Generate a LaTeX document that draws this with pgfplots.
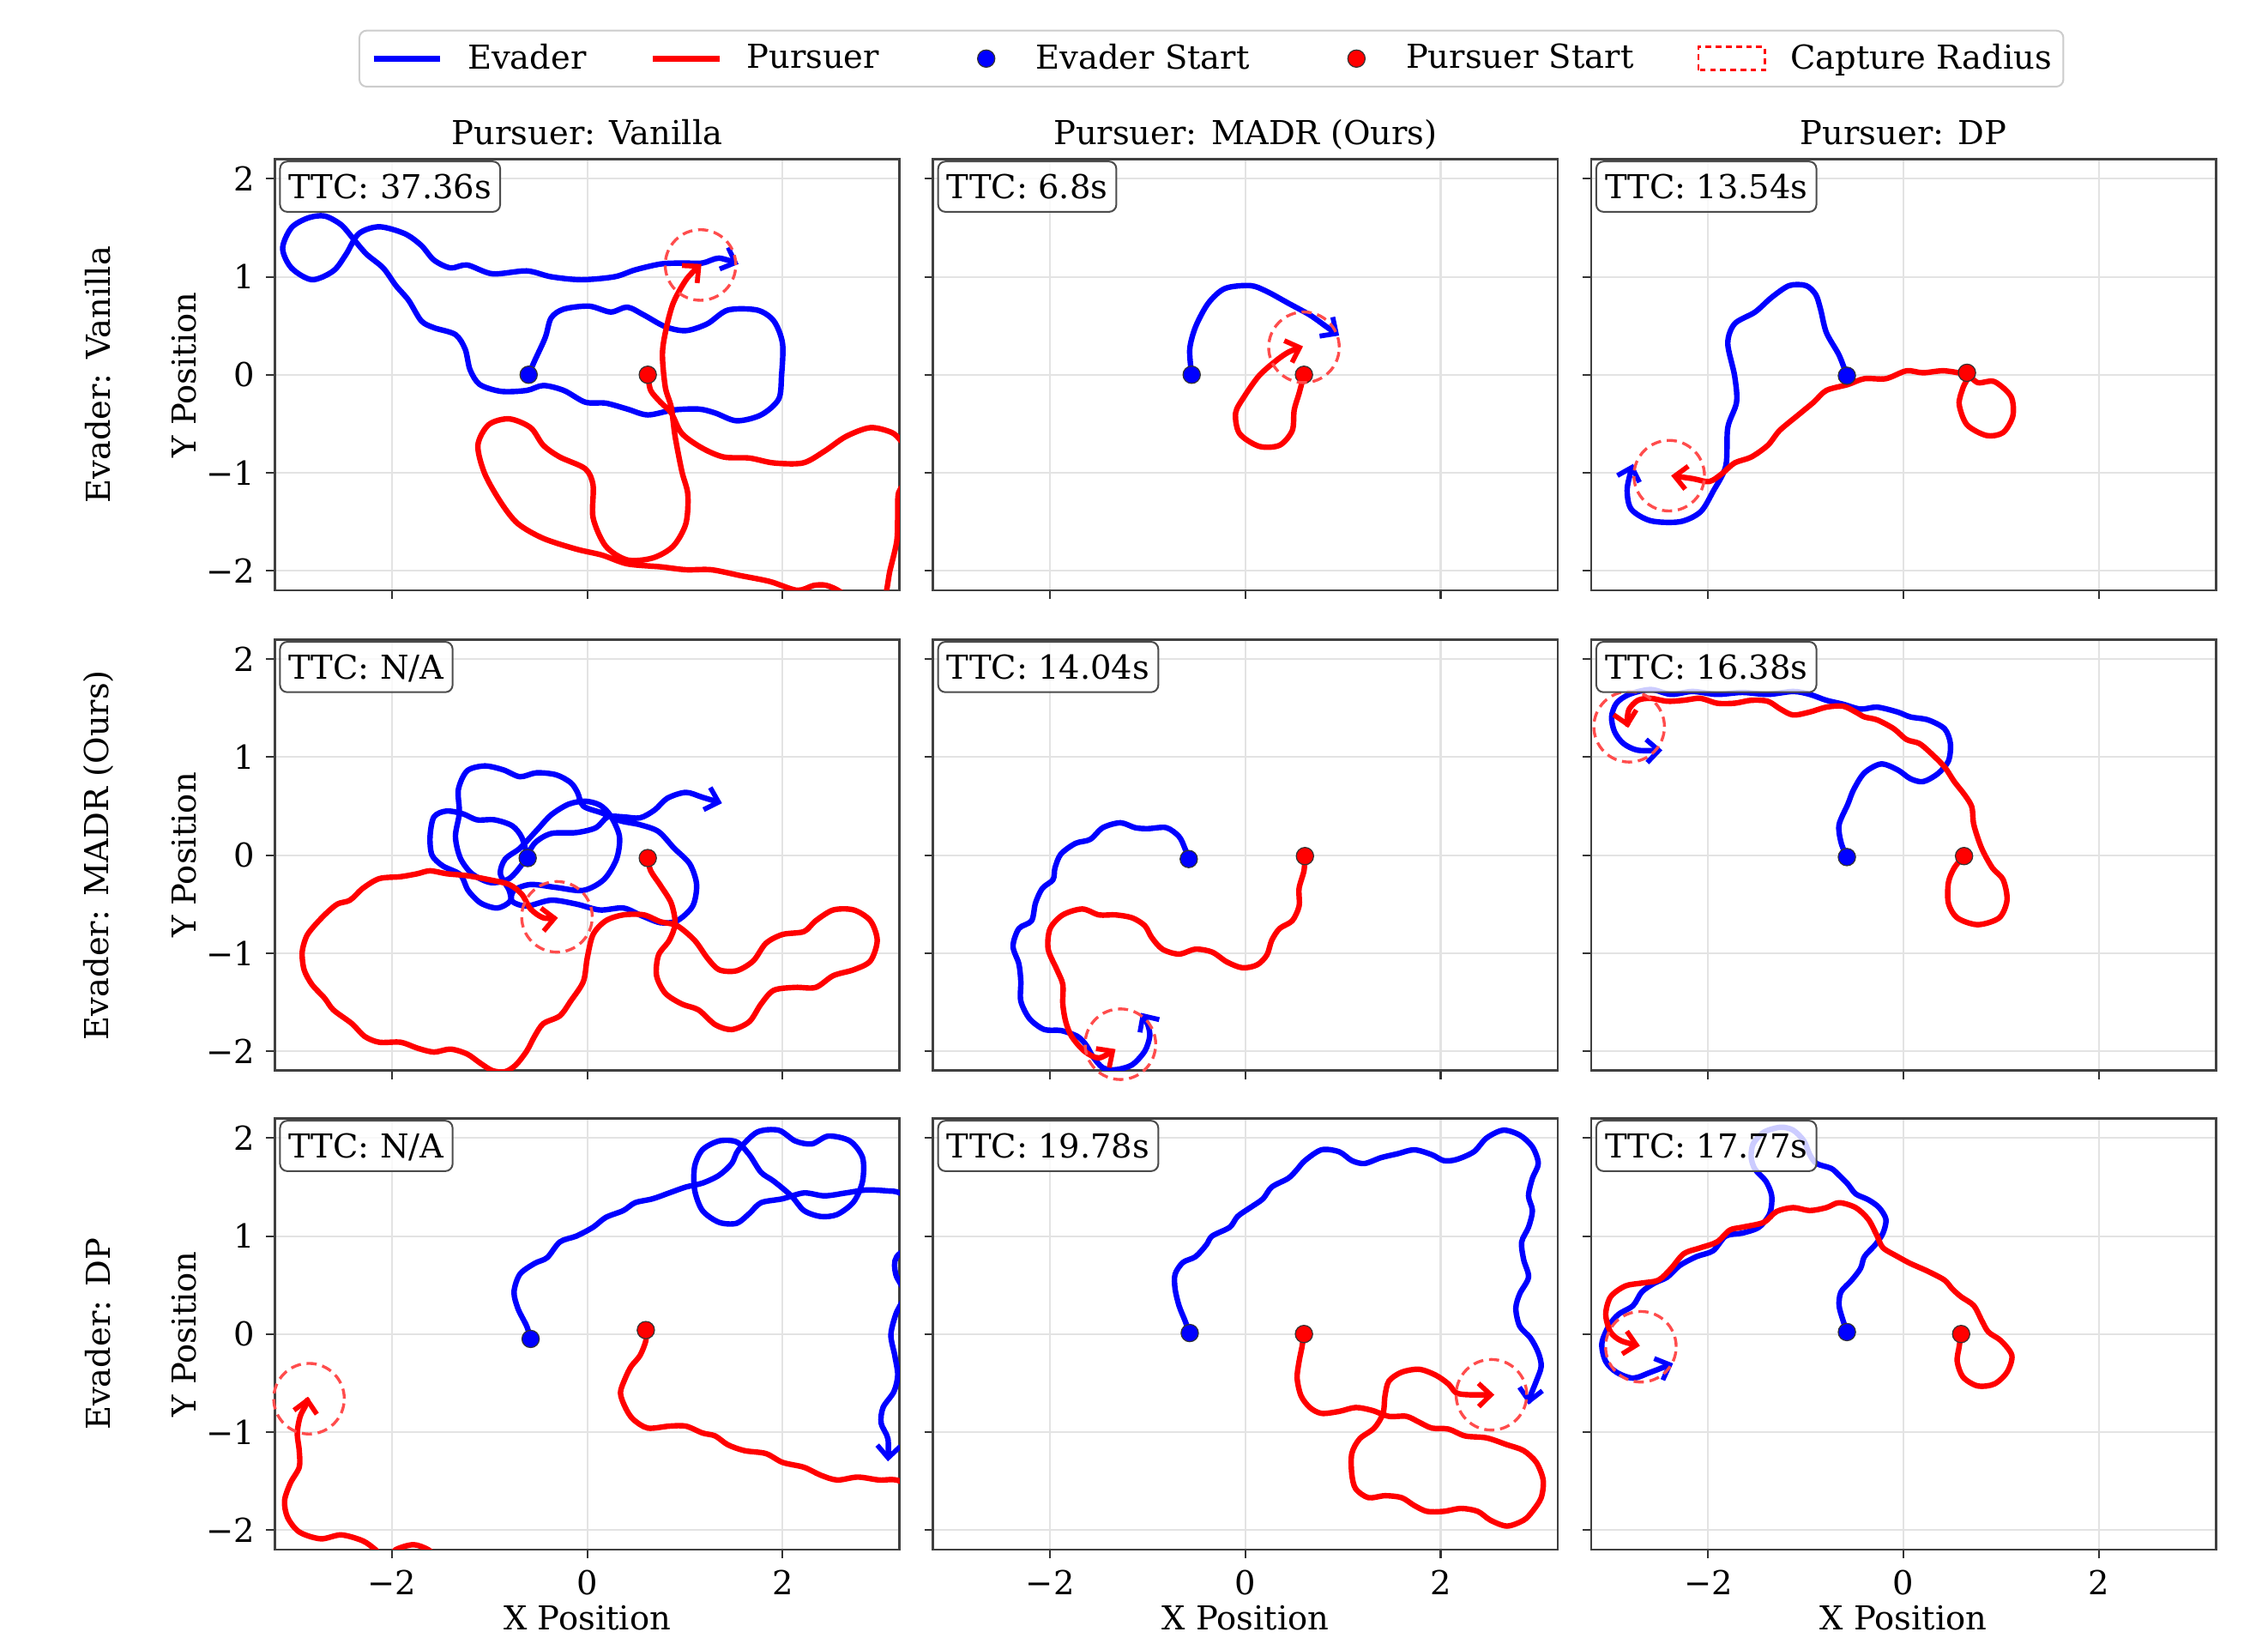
\documentclass[border=0pt]{standalone}
\usepackage{fontspec}
\setmainfont{DejaVu Serif}
\usepackage{pgfplots}
\pgfplotsset{compat=1.18}
\usetikzlibrary{arrows.meta}
\pgfplotsset{
  panel/.style={
    scale only axis, width=216pt, height=149pt,
    xmin=-3.2, xmax=3.2, ymin=-2.2, ymax=2.2,
    xtick={-2,0,2}, ytick={-2,-1,0,1,2},
    xticklabels={,,}, yticklabels={,,,,},
    tick align=outside, tick pos=left,
    major tick length=3pt,
    tick style={black!80, line width=0.6pt},
    xmajorgrids, ymajorgrids,
    grid style={gray!22, line width=0.6pt},
    axis line style={black!75, line width=0.8pt},
    anchor=north west,
  },
  ylab/.style={yticklabels={−2,−1,0,1,2}},
  xlab/.style={xticklabels={−2,0,2}},
  ev/.style={color=blue, line width=1.9pt, smooth, tension=0.5, line join=round, line cap=round, -{Straight Barb[length=4.2pt,width=8pt,line width=1.7pt]}},
  pu/.style={color=red, line width=1.9pt, smooth, tension=0.5, line join=round, line cap=round, -{Straight Barb[length=4.2pt,width=8pt,line width=1.7pt]}},
  sb/.style={only marks, mark=*, mark size=3pt, color=blue, mark options={draw=black!80, line width=0.35pt}},
  sr/.style={only marks, mark=*, mark size=3pt, color=red, mark options={draw=black!80, line width=0.35pt}},
  cap/.style={only marks, mark=o, mark size=12.2pt, mark options={draw=red!70, line width=1pt, dash pattern=on 3.5pt off 2pt}},
}
\tikzset{
  ttc/.style={draw=black!70, fill=white, fill opacity=0.8, text opacity=1, rounded corners=2.5pt, line width=0.6pt, anchor=north west, inner xsep=3pt, inner ysep=4.5pt, text height=8.4pt, text depth=0pt},
}
\begin{document}
\fontsize{11.4}{13.7}\selectfont
\begin{tikzpicture}
% ---------- legend ----------
\begin{axis}[at={(418.75pt,-20.25pt)}, anchor=center, scale only axis, width=10pt, height=10pt, hide axis,
  xmin=0, xmax=1, ymin=0, ymax=1,
  legend columns=5, legend cell align=left,
  legend image code/.code={\draw[#1] (0pt,0pt) -- (23pt,0pt); \path (0pt,0pt) (31.5pt,0pt);},
  legend style={at={(0.5,0.5)}, anchor=center, draw=black!20, line width=0.6pt, rounded corners=2.5pt,
    inner xsep=4pt, inner ysep=2.5pt, /tikz/column sep=0pt,
    /tikz/every even column/.append style={column sep=22pt},
    nodes={inner xsep=0pt, inner ysep=2pt}}]
\addlegendimage{blue, line width=1.9pt, sharp corners}
\addlegendimage{red, line width=1.9pt, sharp corners}
\addlegendimage{legend image code/.code={\node[circle, fill=blue, draw=black!80, line width=0.35pt, inner sep=0pt, minimum size=6pt] at (11.5pt,0pt) {}; \path (0pt,0pt) (31.5pt,0pt);}}
\addlegendimage{legend image code/.code={\node[circle, fill=red, draw=black!80, line width=0.35pt, inner sep=0pt, minimum size=6pt] at (11.5pt,0pt) {}; \path (0pt,0pt) (31.5pt,0pt);}}
\addlegendimage{legend image code/.code={\draw[red, sharp corners, line width=0.8pt, dash pattern=on 2pt off 1.5pt] (0pt,-4pt) rectangle (23pt,4pt); \path (0pt,0pt) (31.5pt,0pt);}}
\legend{Evader, Pursuer, Evader Start, Pursuer Start, Capture Radius}
\end{axis}

% ---------- row 1 ----------
\begin{axis}[panel, ylab, at={(95pt,-55pt)},
  extra description/.code={
    \node[anchor=base] at ([yshift=5pt]axis description cs:0.5,1) {Pursuer: Vanilla};
    \node[rotate=90] at ([xshift=-61pt]axis description cs:0,0.5) {Evader: Vanilla};
    \node[rotate=90] at ([xshift=-31.5pt]axis description cs:0,0.5) {Y Position};
    \node[ttc] at ([xshift=1.5pt,yshift=-0.5pt]axis description cs:0,1) {TTC: 37.36s};
  }]
\addplot[ev] coordinates {(-0.60,0) (-0.54,0.14) (-0.43,0.38) (-0.37,0.58) (-0.24,0.67) (0.02,0.70) (0.24,0.64) (0.41,0.69) (0.58,0.61) (0.80,0.49) (1.01,0.45) (1.23,0.52) (1.44,0.66) (1.74,0.66) (1.91,0.55) (2.00,0.32) (1.99,-0.01) (1.96,-0.25) (1.78,-0.41) (1.53,-0.47) (1.31,-0.39) (1.14,-0.35) (0.88,-0.36) (0.62,-0.41) (0.41,-0.35) (0.19,-0.29) (-0.02,-0.28) (-0.24,-0.16) (-0.45,-0.11) (-0.62,-0.16) (-0.88,-0.17) (-1.10,-0.10) (-1.20,0.05) (-1.25,0.26) (-1.35,0.41) (-1.57,0.48) (-1.70,0.55) (-1.83,0.76) (-1.96,0.91) (-2.09,1.09) (-2.26,1.23) (-2.39,1.38) (-2.52,1.53) (-2.69,1.62) (-2.86,1.60) (-3.03,1.50) (-3.12,1.29) (-3.03,1.09) (-2.82,0.97) (-2.60,1.06) (-2.47,1.23) (-2.34,1.44) (-2.13,1.51) (-1.87,1.44) (-1.70,1.32) (-1.57,1.17) (-1.40,1.09) (-1.23,1.12) (-0.97,1.03) (-0.62,1.06) (-0.37,1.00) (-0.06,0.97) (0.28,1.00) (0.49,1.07) (0.75,1.13) (0.97,1.14) (1.18,1.14) (1.35,1.19) (1.55,1.13)};
\addplot[pu] coordinates {(0.62,0) (0.65,-0.16) (0.75,-0.28) (0.86,-0.39) (0.97,-0.60) (1.18,-0.75) (1.40,-0.84) (1.66,-0.85) (1.91,-0.90) (2.21,-0.90) (2.43,-0.78) (2.65,-0.63) (2.90,-0.54) (3.12,-0.59) (3.22,-0.68) (3.40,-0.85) (3.30,-1.05) (3.19,-1.20) (3.18,-1.45) (3.17,-1.70) (3.10,-2.00) (3.03,-2.30) (2.80,-2.40) (2.60,-2.22) (2.45,-2.15) (2.32,-2.15) (2.15,-2.20) (1.87,-2.11) (1.57,-2.05) (1.27,-1.99) (1.01,-1.99) (0.75,-1.96) (0.41,-1.93) (0.15,-1.84) (-0.11,-1.78) (-0.45,-1.67) (-0.71,-1.52) (-0.88,-1.31) (-1.05,-1.01) (-1.12,-0.72) (-1.01,-0.51) (-0.80,-0.45) (-0.58,-0.54) (-0.45,-0.72) (-0.28,-0.84) (-0.02,-0.96) (0.06,-1.13) (0.06,-1.46) (0.19,-1.75) (0.41,-1.89) (0.67,-1.87) (0.88,-1.75) (1.01,-1.52) (1.03,-1.22) (0.97,-0.99) (0.90,-0.63) (0.86,-0.33) (0.80,-0.13) (0.77,0.20) (0.80,0.43) (0.88,0.73) (1.02,0.98) (1.17,1.13)};
\addplot[sb] coordinates {(-0.60,0)};
\addplot[sr] coordinates {(0.62,0)};
\addplot[cap] coordinates {(1.16,1.12)};
\end{axis}

\begin{axis}[panel, at={(322.5pt,-55pt)},
  extra description/.code={
    \node[anchor=base] at ([yshift=5pt]axis description cs:0.5,1) {Pursuer: MADR (Ours)};
    \node[ttc] at ([xshift=1.5pt,yshift=-0.5pt]axis description cs:0,1) {TTC: 6.8s};
  }]
\addplot[ev] coordinates {(-0.55,0) (-0.57,0.26) (-0.51,0.49) (-0.38,0.73) (-0.21,0.88) (0.05,0.91) (0.22,0.85) (0.44,0.73) (0.66,0.61) (0.83,0.49) (0.96,0.40)};
\addplot[pu] coordinates {(0.60,0) (0.55,-0.19) (0.50,-0.36) (0.48,-0.57) (0.35,-0.72) (0.14,-0.73) (-0.06,-0.60) (-0.10,-0.39) (-0.01,-0.22) (0.14,-0.01) (0.31,0.14) (0.44,0.23) (0.59,0.29)};
\addplot[sb] coordinates {(-0.55,0)};
\addplot[sr] coordinates {(0.60,0)};
\addplot[cap] coordinates {(0.60,0.28)};
\end{axis}

\begin{axis}[panel, at={(550pt,-55pt)},
  extra description/.code={
    \node[anchor=base] at ([yshift=5pt]axis description cs:0.5,1) {Pursuer: DP};
    \node[ttc] at ([xshift=1.5pt,yshift=-0.5pt]axis description cs:0,1) {TTC: 13.54s};
  }]
\addplot[ev] coordinates {(-0.58,-0.01) (-0.66,0.20) (-0.79,0.43) (-0.85,0.67) (-0.90,0.82) (-1.00,0.91) (-1.17,0.91) (-1.35,0.79) (-1.52,0.64) (-1.73,0.52) (-1.80,0.32) (-1.73,-0.01) (-1.71,-0.28) (-1.80,-0.54) (-1.82,-0.93) (-1.95,-1.19) (-2.08,-1.40) (-2.29,-1.50) (-2.59,-1.49) (-2.79,-1.37) (-2.83,-1.16) (-2.77,-0.91)};
\addplot[pu] coordinates {(0.65,0.02) (0.76,-0.08) (0.93,-0.07) (1.10,-0.22) (1.12,-0.42) (1.02,-0.59) (0.85,-0.62) (0.65,-0.51) (0.57,-0.30) (0.61,-0.13) (0.65,-0.01) (0.42,0.04) (0.20,0.02) (0.03,0.04) (-0.18,-0.04) (-0.40,-0.04) (-0.57,-0.10) (-0.79,-0.16) (-0.92,-0.28) (-1.09,-0.42) (-1.27,-0.57) (-1.39,-0.72) (-1.56,-0.84) (-1.73,-0.90) (-1.86,-1.01) (-1.99,-1.09) (-2.16,-1.06) (-2.38,-1.03)};
\addplot[sb] coordinates {(-0.58,-0.01)};
\addplot[sr] coordinates {(0.65,0.02)};
\addplot[cap] coordinates {(-2.40,-1.03)};
\end{axis}

% ---------- row 2 ----------
\begin{axis}[panel, ylab, at={(95pt,-221pt)},
  extra description/.code={
    \node[rotate=90] at ([xshift=-61pt]axis description cs:0,0.5) {Evader: MADR (Ours)};
    \node[rotate=90] at ([xshift=-31.5pt]axis description cs:0,0.5) {Y Position};
    \node[ttc] at ([xshift=1.5pt,yshift=-0.5pt]axis description cs:0,1) {TTC: N/A};
  }]
\addplot[ev] coordinates {(-0.61,-0.03) (-0.67,0.18) (-0.77,0.30) (-0.95,0.36) (-1.13,0.36) (-1.27,0.42) (-1.44,0.45) (-1.57,0.39) (-1.61,0.19) (-1.59,0.00) (-1.48,-0.11) (-1.30,-0.20) (-1.22,-0.36) (-1.09,-0.49) (-0.92,-0.54) (-0.79,-0.47) (-0.80,-0.36) (-0.89,-0.19) (-0.84,-0.04) (-0.69,0.07) (-0.52,0.25) (-0.37,0.41) (-0.19,0.52) (-0.02,0.55) (0.13,0.51) (0.24,0.40) (0.33,0.19) (0.30,-0.04) (0.17,-0.25) (-0.04,-0.36) (-0.32,-0.33) (-0.58,-0.30) (-0.75,-0.36) (-0.77,-0.47) (-0.62,-0.52) (-0.37,-0.46) (-0.11,-0.50) (0.13,-0.56) (0.37,-0.54) (0.56,-0.62) (0.75,-0.69) (0.92,-0.67) (1.08,-0.52) (1.12,-0.30) (1.05,-0.09) (0.89,0.07) (0.73,0.24) (0.54,0.31) (0.34,0.35) (0.15,0.43) (-0.04,0.50) (-0.10,0.64) (-0.17,0.74) (-0.32,0.82) (-0.52,0.84) (-0.69,0.80) (-0.86,0.87) (-1.05,0.91) (-1.23,0.86) (-1.32,0.67) (-1.31,0.43) (-1.35,0.19) (-1.30,-0.03) (-1.18,-0.19) (-0.99,-0.28) (-0.80,-0.24) (-0.65,-0.07) (-0.54,0.12) (-0.37,0.22) (-0.11,0.23) (0.09,0.28) (0.21,0.39) (0.37,0.39) (0.54,0.38) (0.69,0.46) (0.82,0.58) (1.01,0.64) (1.18,0.59) (1.38,0.53)};
\addplot[pu] coordinates {(0.62,-0.03) (0.65,-0.16) (0.75,-0.31) (0.86,-0.49) (0.90,-0.70) (0.84,-0.87) (0.73,-1.02) (0.71,-1.23) (0.80,-1.41) (0.97,-1.52) (1.14,-1.58) (1.31,-1.73) (1.48,-1.78) (1.66,-1.70) (1.78,-1.52) (1.91,-1.38) (2.13,-1.35) (2.34,-1.35) (2.52,-1.23) (2.73,-1.17) (2.90,-1.08) (2.97,-0.87) (2.90,-0.67) (2.73,-0.56) (2.52,-0.56) (2.34,-0.67) (2.22,-0.78) (2.00,-0.81) (1.83,-0.90) (1.70,-1.08) (1.53,-1.18) (1.35,-1.17) (1.23,-1.05) (1.10,-0.87) (0.92,-0.72) (0.75,-0.68) (0.58,-0.61) (0.37,-0.61) (0.19,-0.67) (0.06,-0.81) (0.00,-1.05) (-0.04,-1.29) (-0.17,-1.49) (-0.28,-1.64) (-0.45,-1.72) (-0.54,-1.85) (-0.62,-2.00) (-0.73,-2.14) (-0.84,-2.21) (-0.97,-2.20) (-1.10,-2.12) (-1.23,-2.03) (-1.40,-1.98) (-1.57,-2.01) (-1.74,-1.97) (-1.91,-1.91) (-2.13,-1.91) (-2.28,-1.85) (-2.41,-1.72) (-2.60,-1.58) (-2.69,-1.46) (-2.82,-1.32) (-2.90,-1.17) (-2.92,-0.99) (-2.88,-0.84) (-2.82,-0.75) (-2.69,-0.61) (-2.56,-0.50) (-2.43,-0.46) (-2.30,-0.34) (-2.13,-0.24) (-1.91,-0.22) (-1.74,-0.19) (-1.61,-0.16) (-1.44,-0.19) (-1.23,-0.21) (-1.01,-0.25) (-0.80,-0.30) (-0.67,-0.40) (-0.58,-0.55) (-0.45,-0.64) (-0.30,-0.64)};
\addplot[sb] coordinates {(-0.61,-0.03)};
\addplot[sr] coordinates {(0.62,-0.03)};
\addplot[cap] coordinates {(-0.31,-0.63)};
\end{axis}

\begin{axis}[panel, at={(322.5pt,-221pt)},
  extra description/.code={
    \node[ttc] at ([xshift=1.5pt,yshift=-0.5pt]axis description cs:0,1) {TTC: 14.04s};
  }]
\addplot[ev] coordinates {(-0.58,-0.04) (-0.62,0.07) (-0.68,0.19) (-0.81,0.28) (-1.00,0.27) (-1.13,0.28) (-1.28,0.33) (-1.46,0.28) (-1.59,0.16) (-1.74,0.12) (-1.89,0.01) (-1.95,-0.13) (-1.97,-0.25) (-2.08,-0.34) (-2.15,-0.49) (-2.19,-0.67) (-2.32,-0.75) (-2.38,-0.93) (-2.32,-1.11) (-2.30,-1.29) (-2.30,-1.49) (-2.21,-1.67) (-2.06,-1.78) (-1.89,-1.79) (-1.72,-1.85) (-1.63,-1.94) (-1.56,-2.06) (-1.46,-2.17) (-1.33,-2.19) (-1.16,-2.14) (-1.03,-2.00) (-0.98,-1.85) (-1.00,-1.73) (-1.07,-1.61)};
\addplot[pu] coordinates {(0.61,-0.01) (0.60,-0.16) (0.55,-0.34) (0.55,-0.52) (0.48,-0.67) (0.35,-0.75) (0.27,-0.87) (0.22,-1.02) (0.12,-1.12) (-0.03,-1.15) (-0.19,-1.09) (-0.34,-0.99) (-0.51,-0.96) (-0.68,-1.01) (-0.85,-0.96) (-0.96,-0.84) (-1.03,-0.72) (-1.16,-0.64) (-1.33,-0.61) (-1.50,-0.61) (-1.67,-0.55) (-1.87,-0.61) (-2.00,-0.75) (-2.02,-0.96) (-1.93,-1.17) (-1.87,-1.32) (-1.87,-1.52) (-1.84,-1.70) (-1.78,-1.85) (-1.65,-2.00) (-1.50,-2.07) (-1.33,-1.98)};
\addplot[sb] coordinates {(-0.58,-0.04)};
\addplot[sr] coordinates {(0.61,-0.01)};
\addplot[cap] coordinates {(-1.28,-1.93)};
\end{axis}

\begin{axis}[panel, at={(550pt,-221pt)},
  extra description/.code={
    \node[ttc] at ([xshift=1.5pt,yshift=-0.5pt]axis description cs:0,1) {TTC: 16.38s};
  }]
\addplot[ev] coordinates {(-0.58,-0.02) (-0.64,0.13) (-0.66,0.31) (-0.57,0.52) (-0.51,0.67) (-0.40,0.84) (-0.23,0.93) (-0.06,0.87) (0.07,0.78) (0.20,0.75) (0.35,0.83) (0.46,0.96) (0.48,1.14) (0.42,1.29) (0.25,1.38) (0.07,1.41) (-0.06,1.46) (-0.27,1.51) (-0.44,1.49) (-0.62,1.54) (-0.79,1.58) (-0.96,1.64) (-1.13,1.67) (-1.39,1.64) (-1.65,1.66) (-1.91,1.64) (-2.16,1.67) (-2.38,1.64) (-2.59,1.69) (-2.81,1.64) (-2.94,1.55) (-2.99,1.41) (-2.96,1.26) (-2.87,1.14) (-2.72,1.07) (-2.47,1.07)};
\addplot[pu] coordinates {(0.62,-0.01) (0.52,-0.13) (0.46,-0.28) (0.46,-0.49) (0.55,-0.64) (0.76,-0.71) (0.98,-0.64) (1.06,-0.46) (1.02,-0.25) (0.91,-0.13) (0.80,0.07) (0.72,0.31) (0.70,0.49) (0.63,0.61) (0.52,0.75) (0.42,0.90) (0.27,1.05) (0.16,1.14) (0.03,1.18) (-0.10,1.29) (-0.27,1.38) (-0.40,1.41) (-0.49,1.46) (-0.62,1.52) (-0.79,1.51) (-0.96,1.46) (-1.13,1.43) (-1.26,1.49) (-1.39,1.57) (-1.56,1.58) (-1.73,1.55) (-1.91,1.55) (-2.08,1.60) (-2.25,1.58) (-2.42,1.57) (-2.59,1.60) (-2.72,1.58) (-2.81,1.49) (-2.83,1.38) (-2.82,1.30)};
\addplot[sb] coordinates {(-0.58,-0.02)};
\addplot[sr] coordinates {(0.62,-0.01)};
\addplot[cap] coordinates {(-2.81,1.31)};
\end{axis}

% ---------- row 3 ----------
\begin{axis}[panel, ylab, xlab, at={(95pt,-386.5pt)},
  extra description/.code={
    \node[rotate=90] at ([xshift=-61pt]axis description cs:0,0.5) {Evader: DP};
    \node[rotate=90] at ([xshift=-31.5pt]axis description cs:0,0.5) {Y Position};
    \node at ([yshift=-23.5pt]axis description cs:0.5,0) {X Position};
    \node[ttc] at ([xshift=1.5pt,yshift=-0.5pt]axis description cs:0,1) {TTC: N/A};
  }]
\addplot[ev] coordinates {(-0.58,-0.05) (-0.62,0.08) (-0.71,0.26) (-0.75,0.43) (-0.69,0.61) (-0.54,0.72) (-0.41,0.78) (-0.28,0.94) (-0.11,1.00) (0.06,1.09) (0.19,1.19) (0.37,1.26) (0.49,1.34) (0.67,1.38) (0.84,1.44) (1.01,1.50) (1.18,1.54) (1.35,1.62) (1.48,1.74) (1.55,1.88) (1.74,2.06) (1.96,2.08) (2.13,1.97) (2.30,1.94) (2.47,2.02) (2.69,1.97) (2.82,1.80) (2.82,1.56) (2.73,1.35) (2.56,1.22) (2.39,1.20) (2.22,1.26) (2.09,1.41) (1.91,1.56) (1.78,1.65) (1.66,1.83) (1.53,1.96) (1.35,1.97) (1.18,1.88) (1.10,1.71) (1.10,1.47) (1.18,1.26) (1.35,1.14) (1.53,1.13) (1.66,1.23) (1.78,1.34) (2.00,1.38) (2.22,1.44) (2.43,1.41) (2.65,1.44) (2.86,1.47) (3.08,1.46) (3.20,1.44) (3.51,1.29) (3.42,1.00) (3.17,0.79) (3.16,0.61) (3.25,0.41) (3.16,0.20) (3.11,-0.01) (3.15,-0.22) (3.18,-0.42) (3.14,-0.59) (3.03,-0.75) (3.01,-0.91) (3.08,-1.07) (3.08,-1.30)};
\addplot[pu] coordinates {(0.60,0.04) (0.60,-0.07) (0.54,-0.22) (0.45,-0.33) (0.39,-0.45) (0.34,-0.60) (0.39,-0.75) (0.47,-0.87) (0.62,-0.96) (0.84,-0.94) (1.01,-0.94) (1.18,-1.01) (1.31,-1.04) (1.44,-1.13) (1.61,-1.19) (1.83,-1.22) (2.00,-1.31) (2.22,-1.36) (2.39,-1.44) (2.56,-1.49) (2.77,-1.46) (2.99,-1.49) (3.20,-1.50) (3.50,-1.70) (3.00,-2.60) (-1.00,-2.70) (-1.50,-2.30) (-1.63,-2.20) (-1.78,-2.15) (-1.96,-2.20) (-2.06,-2.30) (-2.17,-2.20) (-2.30,-2.11) (-2.52,-2.05) (-2.73,-2.09) (-2.95,-2.02) (-3.07,-1.87) (-3.10,-1.70) (-3.04,-1.52) (-2.95,-1.36) (-2.95,-1.19) (-2.97,-1.01) (-2.94,-0.84) (-2.88,-0.72) (-2.86,-0.64)};
\addplot[sb] coordinates {(-0.58,-0.05)};
\addplot[sr] coordinates {(0.60,0.04)};
\addplot[cap] coordinates {(-2.85,-0.66)};
\end{axis}

\begin{axis}[panel, xlab, at={(322.5pt,-386.5pt)},
  extra description/.code={
    \node at ([yshift=-23.5pt]axis description cs:0.5,0) {X Position};
    \node[ttc] at ([xshift=1.5pt,yshift=-0.5pt]axis description cs:0,1) {TTC: 19.78s};
  }]
\addplot[ev] coordinates {(-0.57,0.01) (-0.62,0.14) (-0.68,0.29) (-0.72,0.46) (-0.72,0.61) (-0.64,0.73) (-0.51,0.79) (-0.40,0.91) (-0.34,1.00) (-0.16,1.09) (-0.08,1.20) (0.05,1.29) (0.18,1.38) (0.27,1.50) (0.44,1.59) (0.53,1.68) (0.61,1.77) (0.78,1.88) (0.96,1.86) (1.09,1.77) (1.22,1.74) (1.39,1.80) (1.56,1.84) (1.73,1.88) (1.91,1.83) (2.03,1.77) (2.16,1.78) (2.34,1.86) (2.47,2.00) (2.64,2.08) (2.81,2.03) (2.94,1.91) (3.00,1.74) (2.94,1.59) (2.90,1.41) (2.94,1.26) (2.90,1.09) (2.83,0.94) (2.85,0.76) (2.90,0.58) (2.81,0.41) (2.77,0.26) (2.81,0.08) (2.92,-0.04) (3.00,-0.19) (3.03,-0.33) (2.98,-0.48) (2.92,-0.63) (2.90,-0.72)};
\addplot[pu] coordinates {(0.60,0) (0.58,-0.13) (0.55,-0.28) (0.53,-0.45) (0.57,-0.63) (0.66,-0.75) (0.78,-0.81) (0.96,-0.79) (1.13,-0.75) (1.30,-0.78) (1.47,-0.84) (1.65,-0.84) (1.78,-0.90) (1.91,-0.96) (2.08,-0.97) (2.25,-1.04) (2.47,-1.06) (2.68,-1.13) (2.85,-1.19) (2.98,-1.31) (3.05,-1.49) (3.03,-1.67) (2.94,-1.81) (2.85,-1.90) (2.68,-1.96) (2.51,-1.90) (2.38,-1.81) (2.21,-1.78) (2.03,-1.81) (1.86,-1.81) (1.73,-1.75) (1.60,-1.67) (1.43,-1.65) (1.26,-1.67) (1.13,-1.58) (1.09,-1.43) (1.09,-1.22) (1.17,-1.07) (1.32,-0.96) (1.41,-0.81) (1.43,-0.63) (1.47,-0.48) (1.60,-0.39) (1.78,-0.36) (1.95,-0.42) (2.08,-0.51) (2.16,-0.60) (2.29,-0.62) (2.55,-0.62)};
\addplot[sb] coordinates {(-0.57,0.01)};
\addplot[sr] coordinates {(0.60,0)};
\addplot[cap] coordinates {(2.52,-0.62)};
\end{axis}

\begin{axis}[panel, xlab, at={(550pt,-386.5pt)},
  extra description/.code={
    \node at ([yshift=-23.5pt]axis description cs:0.5,0) {X Position};
    \node[ttc] at ([xshift=1.5pt,yshift=-0.5pt]axis description cs:0,1) {TTC: 17.77s};
  }]
\addplot[ev] coordinates {(-0.58,0.02) (-0.62,0.14) (-0.66,0.29) (-0.64,0.43) (-0.53,0.55) (-0.44,0.67) (-0.40,0.79) (-0.29,0.91) (-0.21,1.03) (-0.18,1.17) (-0.25,1.29) (-0.36,1.37) (-0.49,1.43) (-0.57,1.53) (-0.66,1.62) (-0.74,1.69) (-0.89,1.74) (-0.96,1.83) (-1.02,1.97) (-1.13,2.08) (-1.26,2.11) (-1.43,2.06) (-1.54,1.94) (-1.56,1.80) (-1.52,1.68) (-1.41,1.56) (-1.35,1.41) (-1.37,1.23) (-1.48,1.09) (-1.65,1.03) (-1.82,1.00) (-1.95,0.85) (-2.12,0.79) (-2.29,0.70) (-2.42,0.58) (-2.55,0.52) (-2.68,0.43) (-2.77,0.29) (-2.92,0.20) (-3.02,0.08) (-3.09,-0.10) (-3.05,-0.28) (-2.94,-0.39) (-2.77,-0.45) (-2.59,-0.39) (-2.36,-0.30)};
\addplot[pu] coordinates {(0.59,0) (0.57,-0.13) (0.55,-0.28) (0.61,-0.44) (0.76,-0.53) (0.93,-0.51) (1.06,-0.39) (1.11,-0.22) (1.00,-0.07) (0.87,0.02) (0.80,0.14) (0.72,0.29) (0.59,0.38) (0.50,0.46) (0.42,0.55) (0.25,0.64) (0.07,0.72) (-0.06,0.79) (-0.21,0.88) (-0.27,1.00) (-0.36,1.17) (-0.49,1.29) (-0.66,1.34) (-0.79,1.29) (-0.96,1.26) (-1.13,1.29) (-1.30,1.25) (-1.43,1.14) (-1.65,1.09) (-1.78,1.06) (-1.91,0.94) (-2.08,0.88) (-2.25,0.82) (-2.38,0.67) (-2.51,0.55) (-2.68,0.52) (-2.85,0.49) (-3.00,0.38) (-3.05,0.20) (-3.00,0.02) (-2.89,-0.07) (-2.70,-0.12)};
\addplot[sb] coordinates {(-0.58,0.02)};
\addplot[sr] coordinates {(0.59,0)};
\addplot[cap] coordinates {(-2.69,-0.13)};
\end{axis}

\pgfresetboundingbox
\path[use as bounding box] (0pt,0pt) rectangle (784pt,-566pt);
\end{tikzpicture}
\end{document}
